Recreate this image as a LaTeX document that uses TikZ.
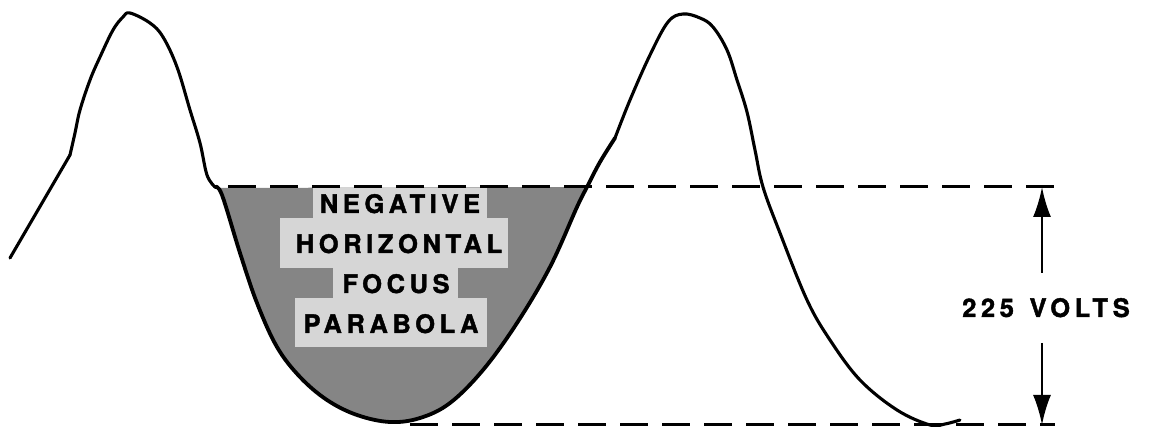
\documentclass[tikz,border=0pt]{standalone}
\usepackage{fontspec}
\newfontfamily\lblfont[LetterSpace=18,FakeBold=1.6]{TeX Gyre Heros}
\usetikzlibrary{arrows.meta}
\begin{document}
\begin{tikzpicture}[x=1pt,y=-1pt,
  wave/.style={line width=3.1pt,line cap=round,line join=round},
  level/.style={line width=3pt,dash pattern=on 28pt off 14pt},
  lbl/.style={anchor=base,inner sep=0pt,font=\lblfont\bfseries\fontsize{25.5}{30}\selectfont},
  dimarrow/.style={line width=2.4pt,-{Latex[length=30pt,width=18pt]}},
  shade/.style={fill=black!48},
  lightbox/.style={fill=black!16}]
\useasboundingbox (0,0) rectangle (1152,427);
% shaded area
\fill[shade] plot[smooth,tension=0.6] coordinates {(217,188) (222,195) (240,253) (257,303) (277,347) (300,377) (327,400) (357,415) (390,422) (420,418) (450,403) (483,370) (517,323) (550,267) (577,207) (587,187)} -- cycle;
% light label boxes
\fill[lightbox] (313,188) rectangle (487,218);
\fill[lightbox] (280,218) rectangle (508,268);
\fill[lightbox] (333,268) rectangle (458,298);
\fill[lightbox] (295,298) rectangle (487,347);
% dashed levels
\draw[level] (228,187) -- (1057,187);
\draw[level] (410,425) -- (1055,425);
% waveform
\draw[wave] (10,258) -- (70,155);
\draw[wave] plot[smooth,tension=0.6] coordinates {(70,155) (75,133) (80,110) (90,80) (100,57) (113,30) (123,17) (130,13) (150,23) (163,37) (177,67) (190,110) (200,143) (207,175) (215,187)};
\draw[wave,line width=3.8pt] plot[smooth,tension=0.6] coordinates {(215,187) (222,195) (240,253) (257,303) (277,347) (300,377) (327,400) (357,415) (390,422) (420,418) (450,403) (483,370) (517,323) (550,267) (577,207) (587,187) (600,162) (615,138)};
\draw[wave] plot[smooth,tension=0.6] coordinates {(615,138) (630,100) (650,55) (668,22) (683,14) (700,18) (713,27) (727,50) (737,80) (747,112) (755,150) (763,187) (780,233) (807,300) (830,340) (860,380) (897,410) (930,425) (945,424) (960,420)};
% labels
\node[lbl] (l1) at (400,213) {NEGATIVE};
\node[lbl] (l2) at (399,253) {HORIZONTAL};
\node[lbl] (l3) at (396,293) {FOCUS};
\node[lbl] (l4) at (391,333) {PARABOLA};
\node[lbl] (volts) at (1046,317) {225\hspace{4pt} VOLTS};
% dimension arrows
\coordinate (astart) at (1042,273);
\coordinate (aend) at (1042,187);
\coordinate (bstart) at (1042,343);
\coordinate (bend) at (1042,425);
\draw[dimarrow] (astart) -- (aend);
\draw[dimarrow] (bstart) -- (bend);
\end{tikzpicture}
\end{document}
